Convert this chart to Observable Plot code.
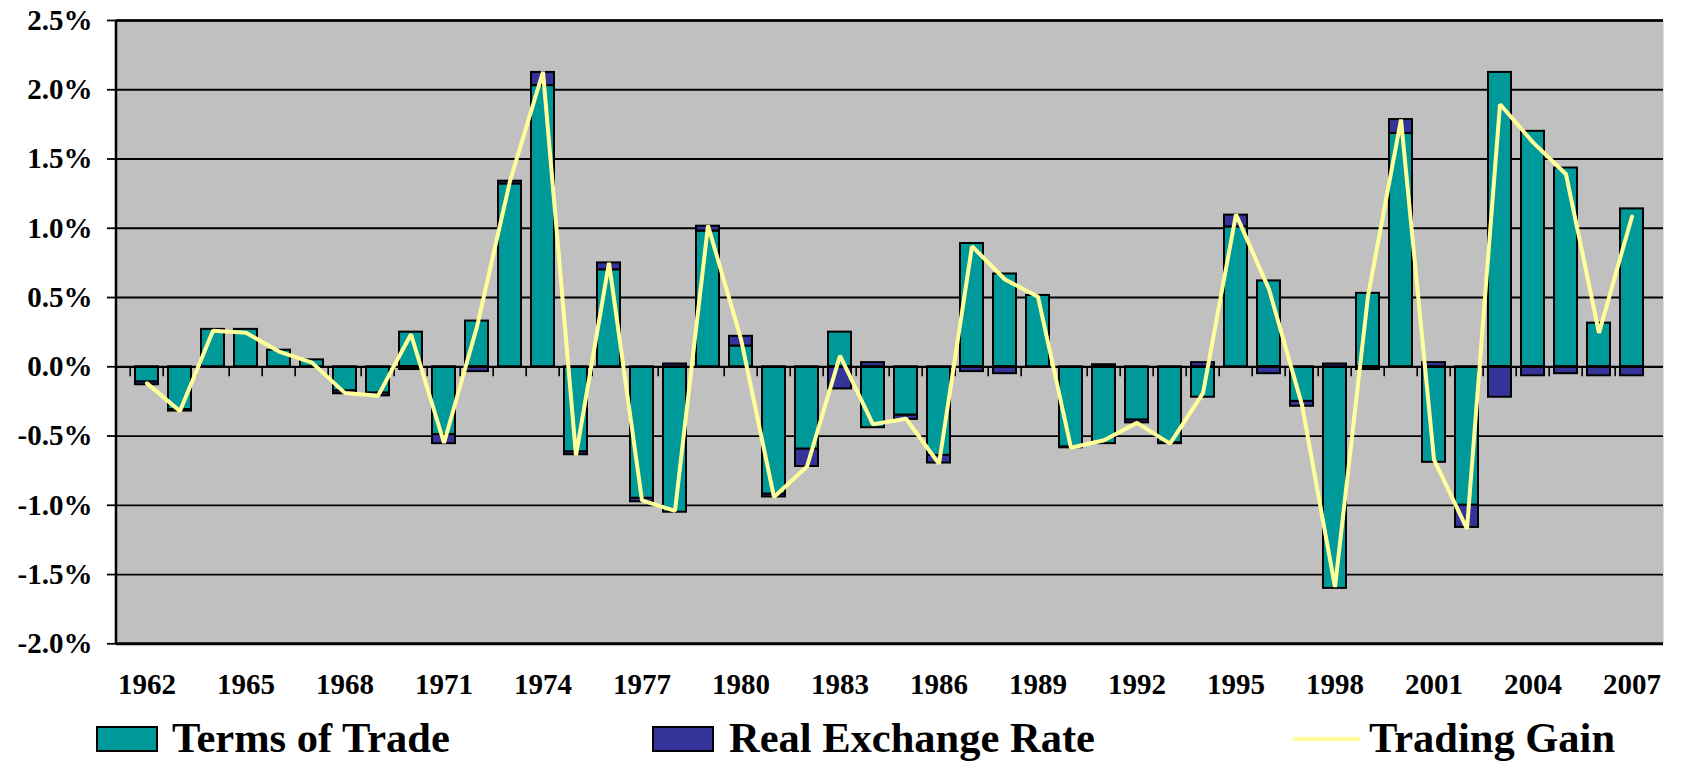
<!DOCTYPE html>
<html>
<head>
<meta charset="utf-8">
<script src="https://cdn.jsdelivr.net/npm/d3@7"></script>
<script src="https://cdn.jsdelivr.net/npm/@observablehq/plot@0.6"></script>
<style>
  html, body { margin: 0; padding: 0; background: #ffffff; }
  body { width: 1690px; height: 762px; overflow: hidden; font-family: "Liberation Serif", "Times New Roman", serif; }
  #chart svg { display: block; }
  #legend { position: relative; width: 1690px; height: 52px; font-family: "Liberation Serif", "Times New Roman", serif; font-weight: bold; font-size: 42.5px; color: #000; }
  #legend .sw { position: absolute; top: 16px; width: 58px; height: 22px; border: 2px solid #000; }
  #legend .ln { position: absolute; top: 27px; width: 67px; height: 4px; }
  #legend .lab { position: absolute; top: 6.5px; line-height: 42.5px; white-space: nowrap; }
</style>
</head>
<body>
<div id="chart"></div>
<div id="legend"></div>
<script>
// ---- data (percent) ----
const years = [1962,1963,1964,1965,1966,1967,1968,1969,1970,1971,1972,1973,1974,1975,1976,1977,1978,1979,1980,1981,1982,1983,1984,1985,1986,1987,1988,1989,1990,1991,1992,1993,1994,1995,1996,1997,1998,1999,2000,2001,2002,2003,2004,2005,2006,2007];
const termsOfTrade = [-0.11,-0.31,0.27,0.27,0.12,0.05,-0.175,-0.19,0.25,-0.49,0.33,1.32,2.03,-0.615,0.70,-0.95,-1.05,0.98,0.15,-0.92,-0.595,0.25,-0.44,-0.35,-0.64,0.89,0.67,0.515,-0.58,-0.555,-0.385,-0.55,-0.22,1.01,0.62,-0.25,-1.60,0.53,1.685,-0.69,-1.00,2.125,1.70,1.435,0.315,1.14];
const realExchangeRate = [-0.02,-0.01,0,0,0,0,-0.02,-0.02,-0.02,-0.065,-0.035,0.02,0.095,-0.02,0.05,-0.025,0.02,0.035,0.07,-0.02,-0.125,-0.16,0.03,-0.03,-0.055,-0.035,-0.05,0,-0.005,0.015,-0.02,-0.005,0.03,0.085,-0.05,-0.035,0.02,-0.02,0.10,0.03,-0.16,-0.22,-0.065,-0.05,-0.065,-0.065];
const tradingGain = [-0.12,-0.32,0.26,0.245,0.11,0.03,-0.19,-0.21,0.235,-0.55,0.29,1.34,2.13,-0.64,0.75,-0.965,-1.04,1.02,0.20,-0.94,-0.72,0.08,-0.415,-0.375,-0.70,0.87,0.63,0.505,-0.585,-0.53,-0.405,-0.555,-0.19,1.10,0.56,-0.275,-1.59,0.51,1.785,-0.67,-1.17,1.895,1.62,1.39,0.245,1.085];
const yearTickLabels = ["1962","1965","1968","1971","1974","1977","1980","1983","1986","1989","1992","1995","1998","2001","2004","2007"];
const yTicks = [-2.0,-1.5,-1.0,-0.5,0.0,0.5,1.0,1.5,2.0,2.5];
const seriesNames = ["Terms of Trade","Real Exchange Rate","Trading Gain"];
const seriesColors = ["#009999","#333399","#FFFF99"];

// ---- tables ----
const barData = [
  ...years.map((yr, i) => ({year: String(yr), series: seriesNames[0], value: termsOfTrade[i]})),
  ...years.map((yr, i) => ({year: String(yr), series: seriesNames[1], value: realExchangeRate[i]}))
];
const lineData = years.map((yr, i) => ({year: String(yr), value: tradingGain[i]}));

const W = 1690, H = 710, mL = 116, mR = 27, mT = 20, mB = 66.7;
const step = (W - mL - mR) / years.length;

const plot = Plot.plot({
  width: W, height: H,
  marginLeft: mL, marginRight: mR, marginTop: mT, marginBottom: mB,
  style: {background: "transparent", fontFamily: "Liberation Serif, Times New Roman, serif", fontSize: "29px", fontWeight: "bold", color: "#000", overflow: "visible"},
  x: {type: "band", domain: years.map(String), paddingInner: 0.3, paddingOuter: 0.15, axis: null},
  y: {domain: [-2, 2.5], axis: null},
  color: {domain: seriesNames.slice(0, 2), range: seriesColors.slice(0, 2)},
  marks: [
    Plot.frame({fill: "#C0C0C0", stroke: null}),
    Plot.ruleY(yTicks, {stroke: "#000", strokeWidth: 1.8}),
    Plot.axisY({ticks: yTicks, tickFormat: d => d.toFixed(1) + "%", tickSize: 9, tickPadding: 15, strokeWidth: 1.8, label: null, fontSize: 29, fontWeight: "bold"}),
    Plot.axisX({ticks: yearTickLabels, tickSize: 0, tickPadding: 30, label: null, fontSize: 29, fontWeight: "bold"}),
    Plot.barY(barData, {x: "year", y: "value", fill: "series", stroke: "#000", strokeWidth: 2}),
    Plot.ruleY([0], {stroke: "#000", strokeWidth: 2.2}),
    Plot.ruleY([-2], {stroke: "#000", strokeWidth: 3}),
    Plot.ruleY([2.5], {stroke: "#000", strokeWidth: 2.5}),
    Plot.ruleX(years.map(String), {x: d => d, y1: d => 0, y2: d => 0, dx: -step / 2, insetTop: 0, insetBottom: -10, stroke: "#000", strokeWidth: 1.6}),
    Plot.line(lineData, {x: "year", y: "value", stroke: seriesColors[2], strokeWidth: 4, strokeLinejoin: "miter"})
  ]
});

// left border of plot area, taken from the frame the library drew
const svg = d3.select(plot);
const fr = svg.select('[aria-label="frame"]');
const frRect = fr.node() && fr.node().tagName.toLowerCase() === "rect" ? fr : fr.select("rect");
if (frRect.node()) {
  const fx = +frRect.attr("x"), fy = +frRect.attr("y"), fh = +frRect.attr("height");
  svg.append("line").attr("x1", fx).attr("x2", fx).attr("y1", fy).attr("y2", fy + fh)
    .attr("stroke", "#000").attr("stroke-width", 2.5);
}
document.getElementById("chart").appendChild(plot);

// ---- legend ----
const legend = d3.select("#legend");
const legendItems = [
  {name: seriesNames[0], color: seriesColors[0], kind: "box", left: 96, textLeft: 172},
  {name: seriesNames[1], color: seriesColors[1], kind: "box", left: 652, textLeft: 729},
  {name: seriesNames[2], color: seriesColors[2], kind: "line", left: 1293, textLeft: 1369}
];
for (const it of legendItems) {
  legend.append("div").attr("class", it.kind === "box" ? "sw" : "ln").style("left", it.left + "px").style("background", it.color);
  legend.append("div").attr("class", "lab").style("left", it.textLeft + "px").text(it.name);
}
</script>
</body>
</html>
